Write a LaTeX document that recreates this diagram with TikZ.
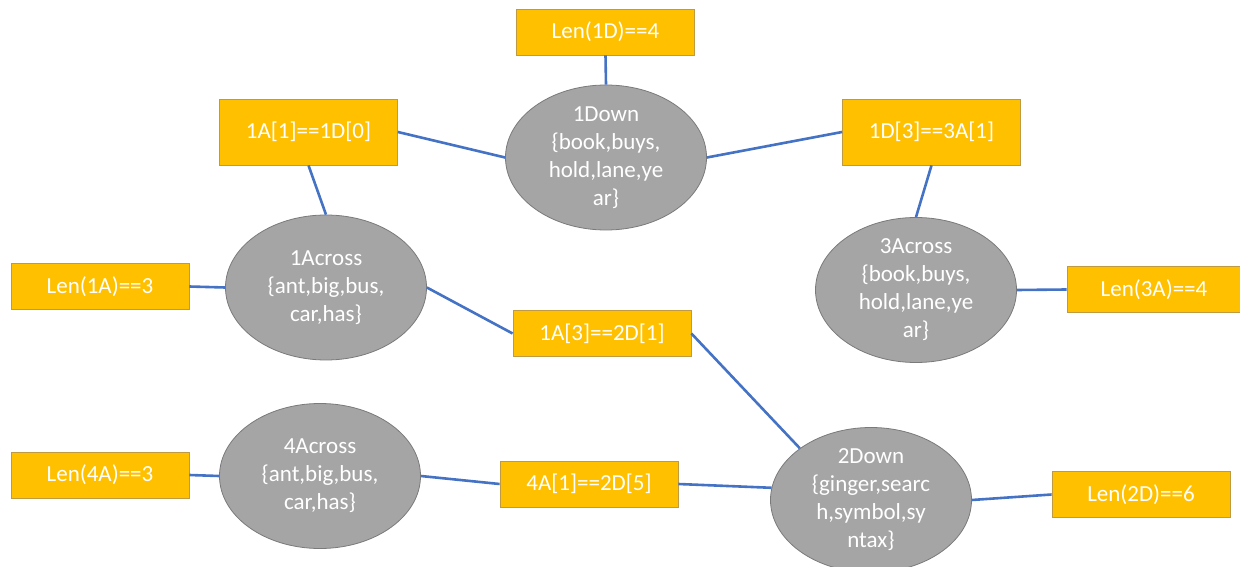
\documentclass[tikz,border=0pt]{standalone}
\usepackage{fontspec}
\setmainfont{Carlito}
\usetikzlibrary{shapes.geometric}
\definecolor{boxfill}{HTML}{FFC000}
\definecolor{boxline}{HTML}{BF9A40}
\definecolor{ellfill}{HTML}{A5A5A5}
\definecolor{ellline}{HTML}{7A7A7A}
\definecolor{conn}{HTML}{4472C4}
\tikzset{
  cbox/.style={rectangle, fill=boxfill, draw=boxline, line width=0.8pt, inner sep=0pt,
    minimum width=178pt, minimum height=46pt, text=white,
    font=\fontsize{23}{28}\selectfont},
  tallbox/.style={cbox, minimum height=66pt},
  cell/.style={ellipse, fill=ellfill, draw=ellline, line width=0.8pt, inner sep=0pt,
    minimum width=201pt, minimum height=145pt, text=white, align=center,
    font=\fontsize{23}{28}\selectfont},
  link/.style={draw=conn, line width=2.6pt}
}
\begin{document}
\begin{tikzpicture}[x=1pt,y=-1pt]
\useasboundingbox (0,0) rectangle (1240,567);
% boxes
\node[cbox] (len1d) at (605.5,32) {Len(1D)==4};
\node[tallbox] (c1) at (308.5,132) {1A[1]==1D[0]};
\node[tallbox] (c2) at (931.5,132) {1D[3]==3A[1]};
\node[cbox] (len1a) at (100,286.5) {Len(1A)==3};
\node[cbox] (c3) at (602,333.5) {1A[3]==2D[1]};
\node[cbox, minimum width=174pt] (len3a) at (1154,289.5) {Len(3A)==4};
\node[cbox] (len4a) at (100,475) {Len(4A)==3};
\node[cbox] (c4) at (589,484) {4A[1]==2D[5]};
\node[cbox] (len2d) at (1141,494.5) {Len(2D)==6};
% ellipses
\node[cell] (d1) at (606,157.5) {1Down\\\{book,buys,\\hold,lane,ye\\ar\}};
\node[cell] (a1) at (326,287.5) {1Across\\\{ant,big,bus,\\car,has\}};
\node[cell] (a3) at (916,290) {3Across\\\{book,buys,\\hold,lane,ye\\ar\}};
\node[cell] (a4) at (320,476) {4Across\\\{ant,big,bus,\\car,has\}};
\node[cell] (d2) at (871,500) {2Down\\\{ginger,searc\\h,symbol,sy\\ntax\}};
% connectors
\draw[link] (len1d.south) -- (d1.north);
\draw[link] (c1.east) -- (d1.west);
\draw[link] (d1.east) -- (c2.west);
\draw[link] (c2.south) -- (a3.north);
\draw[link] (a3.east) -- (len3a.west);
\draw[link] (c1.south) -- (a1.north);
\draw[link] (len1a.east) -- (a1.west);
\draw[link] (a1.east) -- (c3.west);
\draw[link] (c3.east) -- (d2.144);
\draw[link] (c4.east) -- (d2.173);
\draw[link] (a4.east) -- (c4.west);
\draw[link] (len4a.east) -- (a4.west);
\draw[link] (d2.east) -- (len2d.west);
\end{tikzpicture}
\end{document}
